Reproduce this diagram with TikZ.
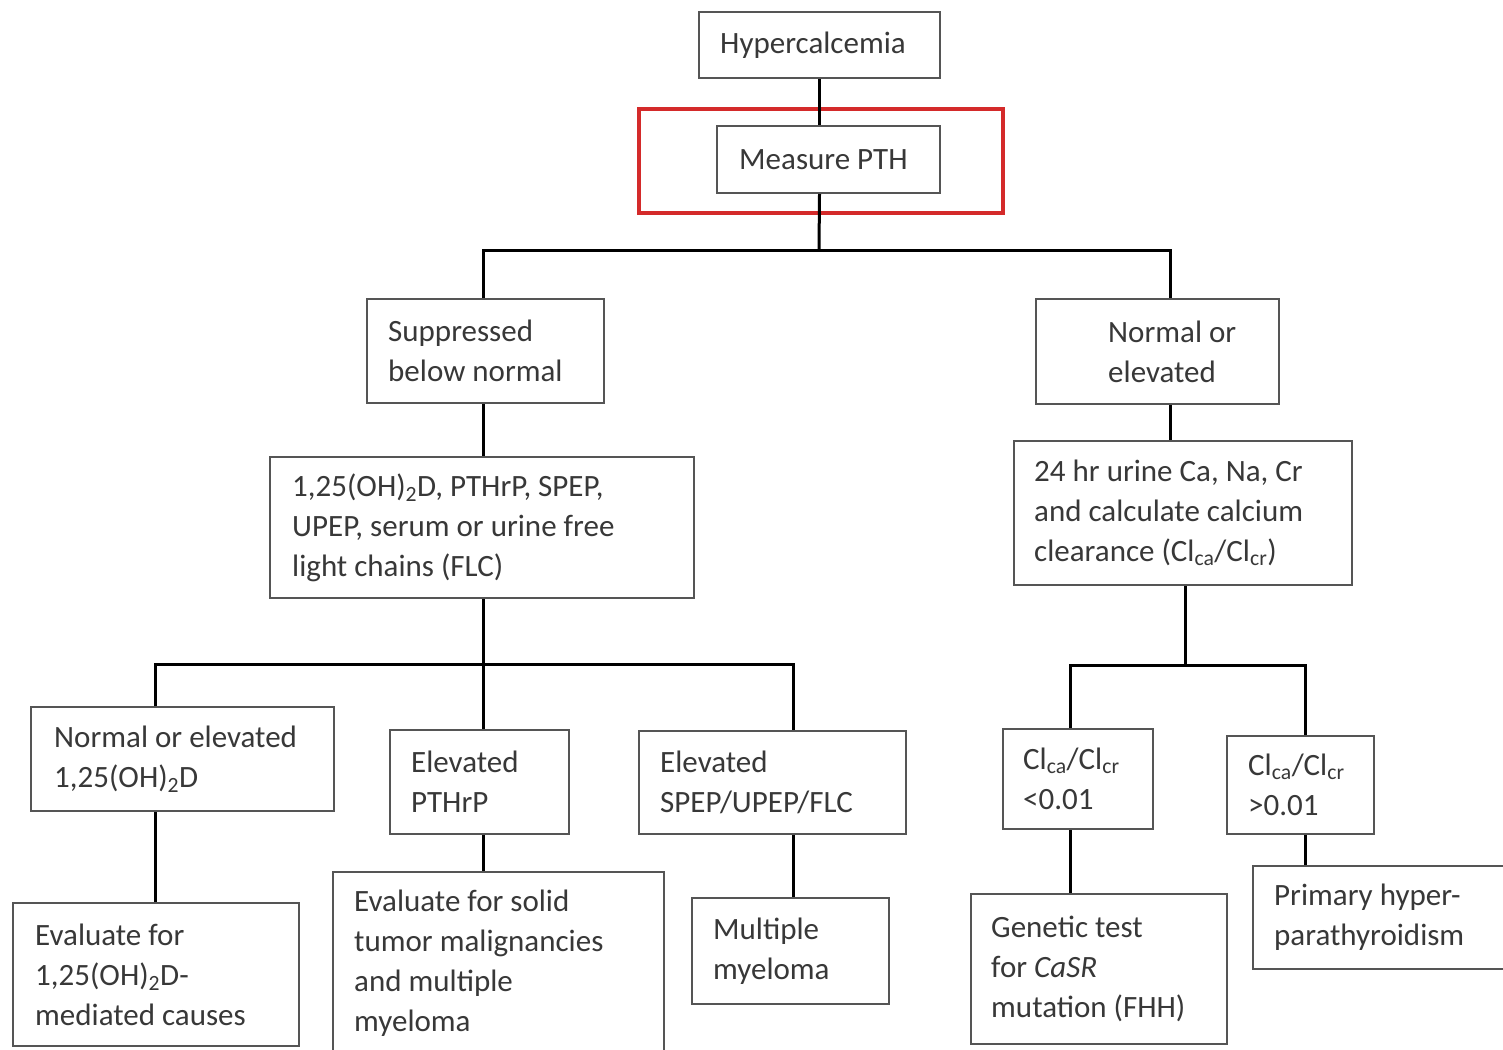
\documentclass[tikz,border=0pt]{standalone}
\usepackage{fontspec}
\setmainfont{Carlito}
\definecolor{txtc}{HTML}{383838}
\definecolor{boxc}{HTML}{555555}
\definecolor{redc}{HTML}{D42A2A}
\begin{document}
\begin{tikzpicture}[x=1pt,y=-1pt,
  box/.style={draw=boxc, line width=2pt, fill=white, anchor=north west, inner sep=0pt},
  txt/.style={anchor=west, align=left, text=txtc, inner sep=0pt, font=\fontsize{31}{40}\selectfont},
  conn/.style={line width=3pt, black},
  redbox/.style={draw=redc, line width=3.5pt, anchor=north west, inner sep=0pt}]
\useasboundingbox (0,0) rectangle (1503,1049);
% boxes
\node[box, minimum width=241pt, minimum height=66pt] (hyp) at (698,11) {};
\node[txt] (hypt) at ([xshift=22pt]hyp.west) {Hypercalcemia};
\node[box, minimum width=223pt, minimum height=67pt] (pth) at (716,125) {};
\node[txt] (ptht) at ([xshift=23pt]pth.west) {Measure PTH};
\node[box, minimum width=237pt, minimum height=104pt] (sup) at (366,298) {};
\node[txt] (supt) at ([xshift=22pt]sup.west) {Suppressed\\below normal};
\node[box, minimum width=243pt, minimum height=105pt] (nor) at (1035,298) {};
\node[txt] (nort) at ([xshift=73pt]nor.west) {Normal or\\elevated};
\node[box, minimum width=424pt, minimum height=141pt] (big) at (269,456) {};
\node[txt] (bigt) at ([xshift=23pt]big.west) {1,25(OH)\textsubscript{2}D, PTHrP, SPEP,\\UPEP, serum or urine free\\light chains (FLC)};
\node[box, minimum width=338pt, minimum height=144pt] (hr) at (1013,440) {};
\node[txt] (hrt) at ([xshift=21pt]hr.west) {24 hr urine Ca, Na, Cr\\and calculate calcium\\clearance (Cl\textsubscript{ca}/Cl\textsubscript{cr})};
\node[box, minimum width=303pt, minimum height=104pt] (nle) at (30,706) {};
\node[txt] (nlet) at ([xshift=24pt]nle.west) {Normal or elevated\\1,25(OH)\textsubscript{2}D};
\node[box, minimum width=179pt, minimum height=104pt] (pthrp) at (389,729) {};
\node[txt] (pthrpt) at ([xshift=22pt]pthrp.west) {Elevated\\PTHrP};
\node[box, minimum width=267pt, minimum height=103pt] (spep) at (638,730) {};
\node[txt] (spept) at ([xshift=22pt]spep.west) {Elevated\\SPEP/UPEP/FLC};
\node[box, minimum width=286pt, minimum height=143pt] (evf) at (12,902) {};
\node[txt] (evft) at ([xshift=23pt]evf.west) {Evaluate for\\1,25(OH)\textsubscript{2}D-\\mediated causes};
\node[box, minimum width=331pt, minimum height=182pt] (sol) at (332,871) {};
\node[txt] (solt) at ([xshift=22pt]sol.west) {Evaluate for solid\\tumor malignancies\\and multiple\\myeloma};
\node[box, minimum width=197pt, minimum height=106pt] (mm) at (691,897) {};
\node[txt] (mmt) at ([xshift=22pt]mm.west) {Multiple\\myeloma};
\node[box, minimum width=150pt, minimum height=100pt] (cla) at (1002,728) {};
\node[txt] (clat) at ([xshift=21pt]cla.west) {Cl\textsubscript{ca}/Cl\textsubscript{cr}\\<0.01};
\node[box, minimum width=147pt, minimum height=98pt] (clb) at (1226,735) {};
\node[txt] (clbt) at ([xshift=22pt]clb.west) {Cl\textsubscript{ca}/Cl\textsubscript{cr}\\>0.01};
\node[box, minimum width=256pt, minimum height=150pt] (gen) at (970,893) {};
\node[txt] (gent) at ([xshift=21pt]gen.west) {Genetic test\\for \textit{CaSR}\\mutation (FHH)};
\node[box, minimum width=258pt, minimum height=103pt] (pri) at (1252,865) {};
\node[txt] (prit) at ([xshift=22pt]pri.west) {Primary hyper-\\parathyroidism};
% red highlight
\node[redbox, minimum width=364pt, minimum height=104pt] (red) at (637,107) {};
% column coordinates
\coordinate (xa) at (155,0);
\coordinate (xb) at (483,0);
\coordinate (xc) at (793,0);
\coordinate (xd) at (1170,0);
\coordinate (xe) at (1185,0);
\coordinate (xf) at (1070,0);
\coordinate (xg) at (1305,0);
\coordinate (j1) at (819,250);
\coordinate (jl) at (483,664);
\coordinate (jr) at (1185,665);
% connectors
\draw[conn] (hyp.south) -- (hyp.south |- pth.north);
\draw[conn] (hyp.south |- pth.south) -- (j1);
\draw[conn] (xb |- sup.north) |- (xd |- j1) -- (xd |- nor.north);
\draw[conn] (xb |- sup.south) -- (xb |- big.north);
\draw[conn] (xd |- nor.south) -- (xd |- hr.north);
\draw[conn] (xb |- big.south) -- (xb |- pthrp.north);
\draw[conn] (xa |- nle.north) |- (xc |- jl) -- (xc |- spep.north);
\draw[conn] (xa |- nle.south) -- (xa |- evf.north);
\draw[conn] (xb |- pthrp.south) -- (xb |- sol.north);
\draw[conn] (xc |- spep.south) -- (xc |- mm.north);
\draw[conn] (xe |- hr.south) -- (jr);
\draw[conn] (xf |- cla.north) |- (xg |- jr) -- (xg |- clb.north);
\draw[conn] (xf |- cla.south) -- (xf |- gen.north);
\draw[conn] (xg |- clb.south) -- (xg |- pri.north);
\end{tikzpicture}
\end{document}
